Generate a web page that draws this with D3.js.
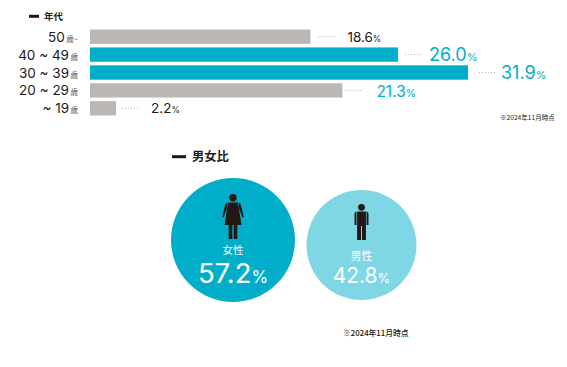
<!DOCTYPE html>
<html>
<head>
<meta charset="utf-8">
<script src="https://cdn.jsdelivr.net/npm/d3@7"></script>
<style>
html, body { margin: 0; padding: 0; background: #fff; }
svg { display: block; }
text { font-family: "Inter", "Noto Sans CJK JP", sans-serif; }
.jp { font-family: "Noto Sans CJK JP", sans-serif; }
</style>
</head>
<body>
<div id="chart"></div>
<script>
// Age data
const ageLabels = ['50', '40 ~ 49', '30 ~ 39', '20 ~ 29', '~ 19'];
const ageSuffix = ['歳~', '歳', '歳', '歳', '歳'];
const ageValues = [18.6, 26.0, 31.9, 21.3, 2.2];
const ageHighlight = [false, true, true, false, false];
const ageTealLabel = [false, true, true, true, false];

// Gender data
const genderLabels = ['女性', '男性'];
const genderValues = [57.2, 42.8];

const teal = '#00aec9', lightTeal = '#7fd7e5', grey = '#bdb7b3', dark = '#231815';

// Hand placed offsets from the bar end, the original is not regular
const leaderGap = [8, 7, 11, 3, 6];
const labelGap = [37, 31, 33, 34, 35];

const svg = d3.select('#chart')
    .append('svg')
    .attr('width', 567)
    .attr('height', 367);

function heading(x, y, w, gap, label, size) {
    svg.append('rect')
        .attr('x', x).attr('y', y - 1.5)
        .attr('width', w).attr('height', 3)
        .attr('fill', dark);
    svg.append('text')
        .attr('class', 'jp')
        .attr('x', x + w + gap).attr('y', y + size * 0.36)
        .attr('font-size', size)
        .attr('font-weight', 700)
        .attr('fill', dark)
        .text(label);
}

// Age bars
heading(29, 16.3, 10, 5, '年代', 9.5);

const x = d3.scaleLinear()
    .domain([0, 31.9])
    .range([90, 468]);

const y = d3.scaleBand()
    .domain(ageLabels)
    .range([29.5, 115.5])
    .paddingInner(0.2)
    .paddingOuter(0);

svg.selectAll('rect.bar')
    .data(ageValues)
    .join('rect')
    .attr('class', 'bar')
    .attr('x', x(0))
    .attr('y', (d, i) => y(ageLabels[i]))
    .attr('width', d => x(d) - x(0))
    .attr('height', y.bandwidth())
    .attr('fill', (d, i) => ageHighlight[i] ? teal : grey);

// Category labels
const cat = svg.selectAll('text.cat')
    .data(ageLabels)
    .join('text')
    .attr('class', 'cat')
    .attr('x', 78)
    .attr('y', d => y(d) + y.bandwidth() / 2 + 5)
    .attr('text-anchor', 'end')
    .attr('fill', dark);
cat.append('tspan').attr('font-size', 13.5).attr('font-weight', 400).text(d => d);
cat.append('tspan')
    .attr('class', 'jp')
    .attr('font-size', 7.5)
    .attr('fill', '#595757')
    .attr('dx', 1.5)
    .text((d, i) => ageSuffix[i]);

// Dotted leaders
svg.selectAll('line.leader')
    .data(ageValues)
    .join('line')
    .attr('class', 'leader')
    .attr('x1', (d, i) => x(d) + leaderGap[i])
    .attr('x2', (d, i) => x(d) + leaderGap[i] + 18)
    .attr('y1', (d, i) => y(ageLabels[i]) + y.bandwidth() / 2)
    .attr('y2', (d, i) => y(ageLabels[i]) + y.bandwidth() / 2)
    .attr('stroke', '#b5b5b5')
    .attr('stroke-width', 1)
    .attr('stroke-dasharray', '1 2');

// Value labels
const val = svg.selectAll('text.val')
    .data(ageValues)
    .join('text')
    .attr('class', 'val')
    .attr('x', (d, i) => x(d) + labelGap[i])
    .attr('y', (d, i) => y(ageLabels[i]) + y.bandwidth() / 2 + (ageTealLabel[i] ? 6.5 : 5))
    .attr('fill', (d, i) => ageTealLabel[i] ? teal : dark);
val.append('tspan')
    .attr('font-size', (d, i) => ageHighlight[i] ? 18 : ageTealLabel[i] ? 15.5 : 13.5)
    .attr('font-weight', 400)
    .text(d => d.toFixed(1));
val.append('tspan')
    .attr('font-size', (d, i) => ageHighlight[i] ? 11 : ageTealLabel[i] ? 10.5 : 8.5)
    .attr('dx', 0)
    .text('%');

svg.append('text')
    .attr('class', 'jp')
    .attr('x', 500).attr('y', 120)
    .attr('font-size', 6.6)
    .attr('fill', dark)
    .text('※2024年11月時点');

// Gender circles
heading(172, 156.7, 14, 6, '男女比', 12.3);

const r = d3.scaleLinear()
    .domain([42.8, 57.2])
    .range([55, 62]);
const cx = d3.scalePoint().domain(genderLabels).range([233, 361.5]);
const cy = d3.scalePoint().domain(genderLabels).range([240, 245]);

const g = svg.selectAll('g.gender')
    .data(genderValues)
    .join('g')
    .attr('class', 'gender')
    .attr('transform', (d, i) => `translate(${cx(genderLabels[i])},${cy(genderLabels[i])})`);

g.append('circle')
    .attr('r', d => r(d))
    .attr('fill', (d, i) => i === 0 ? teal : lightTeal);

// Woman icon, origin at circle centre
const woman = g.filter((d, i) => i === 0).append('g').attr('fill', dark);
woman.append('circle').attr('cy', -42.3).attr('r', 3.7);
woman.append('path')
    .attr('d', 'M-5,-37.5 L5,-37.5 L8.5,-15 L4.3,-15 L4.3,-1 L.7,-1 L.7,-15 L-.7,-15 L-.7,-1 L-4.3,-1 L-4.3,-15 L-8.5,-15z');
woman.append('path')
    .attr('d', 'M5.6,-37.5 Q7,-37.5 7.6,-36 L10.8,-23 L9.4,-22.4 L6.2,-31z M-5.6,-37.5 Q-7,-37.5 -7.6,-36 L-10.8,-23 L-9.4,-22.4 L-6.2,-31z');

// Man icon
const man = g.filter((d, i) => i === 1).append('g').attr('fill', dark);
man.append('circle').attr('cy', -37.7).attr('r', 3.4);
man.append('path')
    .attr('d', 'M-4.4,-33.6 L4.4,-33.6 L4.4,-5 L.5,-5 L.5,-19 L-.5,-19 L-.5,-5 L-4.4,-5z');
man.append('path')
    .attr('d', 'M5,-33.6 Q7,-33.4 7,-31 L7,-20 L5,-20z M-5,-33.6 Q-7,-33.4 -7,-31 L-7,-20 L-5,-20z');

g.append('text')
    .attr('class', 'jp')
    .attr('y', (d, i) => i === 0 ? 13.5 : 14.5)
    .attr('text-anchor', 'middle')
    .attr('font-size', (d, i) => i === 0 ? 10.5 : 11)
    .attr('fill', '#fff')
    .text((d, i) => genderLabels[i]);

const pct = g.append('text')
    .attr('y', (d, i) => i === 0 ? 43 : 38)
    .attr('text-anchor', 'middle')
    .attr('fill', '#fff');
pct.append('tspan')
    .attr('font-size', (d, i) => i === 0 ? 27.5 : 21)
    .attr('font-weight', 400)
    .text(d => d.toFixed(1));
pct.append('tspan')
    .attr('font-size', (d, i) => i === 0 ? 17 : 13)
    .attr('dx', 0)
    .text('%');

svg.append('text')
    .attr('class', 'jp')
    .attr('x', 343).attr('y', 335.5)
    .attr('font-size', 7.8)
    .attr('font-weight', 500)
    .attr('fill', dark)
    .text('※2024年11月時点');
</script>
</body>
</html>
